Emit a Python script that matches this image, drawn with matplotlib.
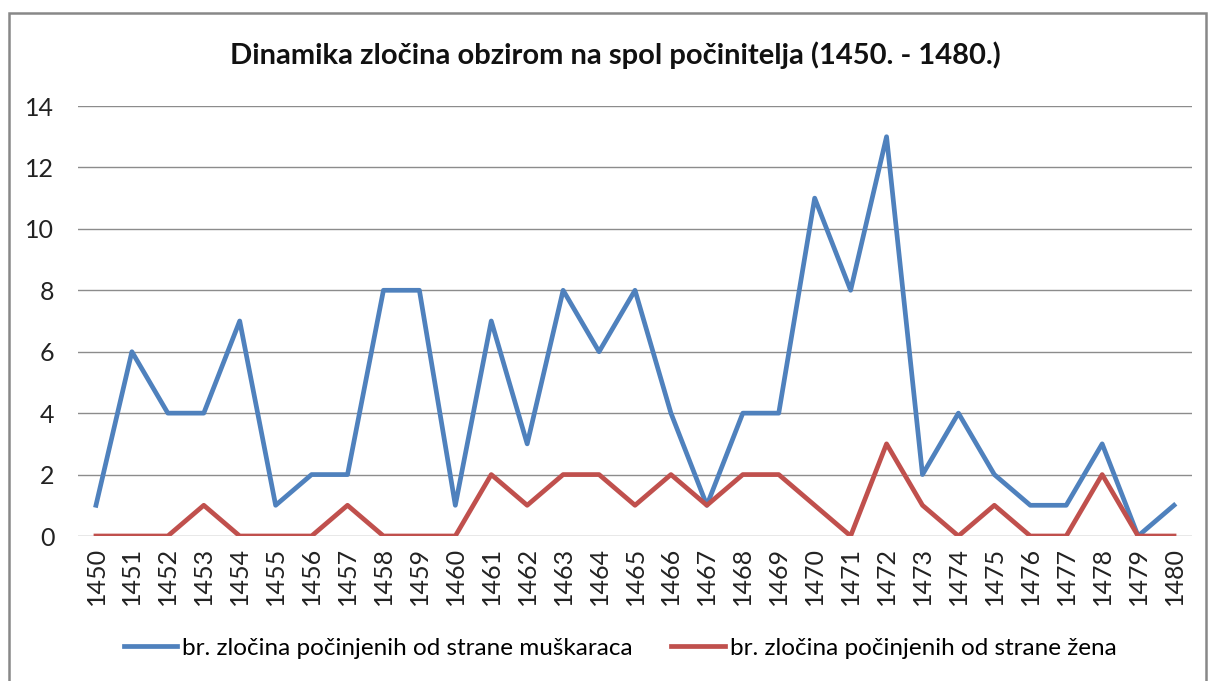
import matplotlib.pyplot as plt
from matplotlib.patches import Rectangle

plt.rcParams['font.family'] = ['Lato', 'DejaVu Sans']

years = list(range(1450, 1481))
men = [1, 6, 4, 4, 7, 1, 2, 2, 8, 8, 1, 7, 3, 8, 6, 8, 4, 1, 4, 4,
       11, 8, 13, 2, 4, 2, 1, 1, 3, 0, 1]
women = [0, 0, 0, 1, 0, 0, 0, 1, 0, 0, 0, 2, 1, 2, 2, 1, 2, 1, 2, 2,
         1, 0, 3, 1, 0, 1, 0, 0, 2, 0, 0]
labels = ['br. zločina počinjenih od strane muškaraca',
          'br. zločina počinjenih od strane žena']
title = 'Dinamika zločina obzirom na spol počinitelja (1450. - 1480.)'

W, H = 1208, 681
fig = plt.figure(figsize=(W / 100, H / 100), dpi=100)
ax = fig.add_axes([78 / W, (H - 536) / H, (1192 - 78) / W, 430 / H])

x = list(range(len(years)))
ax.plot(x, men, color='#4F81BD', lw=3.4, label=labels[0], solid_joinstyle='round')
ax.plot(x, women, color='#C0504D', lw=3.4, label=labels[1], solid_joinstyle='round')

ax.set_xlim(-0.5, len(years) - 0.5)
ax.set_ylim(0, 14)
ax.set_yticks(range(0, 15, 2))
ax.set_xticks(x)
ax.set_xticklabels([str(y) for y in years], rotation=90)
ax.tick_params(length=0, labelsize=18, colors='#222222')
ax.tick_params(axis='y', pad=17)
ax.tick_params(axis='x', pad=8)
ax.grid(axis='y', color='#8c8c8c', lw=1)
ax.set_axisbelow(True)
for s in ax.spines.values():
    s.set_visible(False)

fig.text(615 / W, 1 - 55 / H, title, ha='center', va='center',
         fontsize=21, fontweight='bold', color='#111111')

fig.legend(loc='center', bbox_to_anchor=(620 / W, 1 - 648 / H), ncol=2,
           frameon=False, fontsize=17.5, handlelength=2.2, handletextpad=0.2,
           columnspacing=1.6)

# outer chart border
fig.patches.append(Rectangle((9 / W, -0.05), (1206 - 9) / W, 1.05 - 13 / H,
                             transform=fig.transFigure, fill=False,
                             edgecolor='#888888', lw=1.8))

fig.savefig('out.png', dpi=100)
